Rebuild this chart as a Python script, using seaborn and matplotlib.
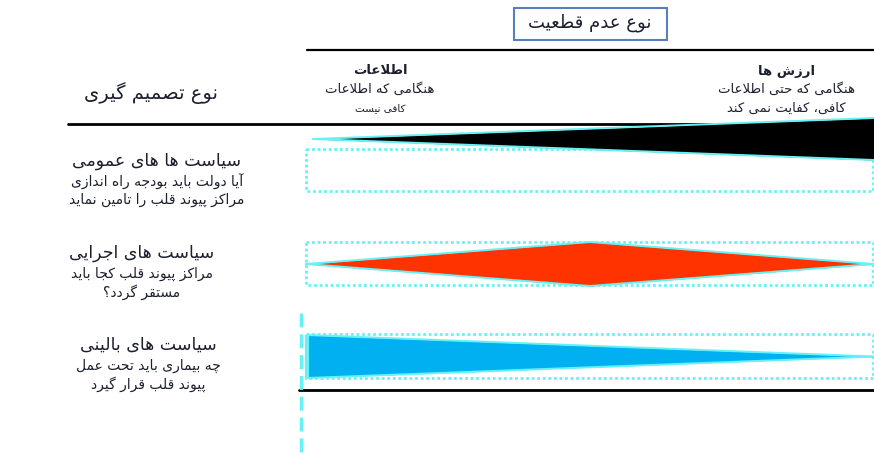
import numpy as np
import pandas as pd
import matplotlib
matplotlib.use("Agg")
import matplotlib.pyplot as plt
import seaborn as sns
from matplotlib.patches import Rectangle

# ---- chart content -------------------------------------------------------
axis_title = "نوع عدم قطعیت"
row_header = "نوع تصمیم گیری"

col_titles = ["اطلاعات", "ارزش ها"]
col_lines = [["هنگامی که اطلاعات", "کافی نیست"],
             ["هنگامی که حتی اطلاعات", "کافی، کفایت نمی کند"]]

row_titles = ["سیاست ها های عمومی", "سیاست های اجرایی", "سیاست های بالینی"]
row_lines = [["آیا دولت باید بودجه راه اندازی", "مراکز پیوند قلب را تامین نماید"],
             ["مراکز پیوند قلب کجا باید", "مستقر گردد؟"],
             ["چه بیماری باید تحت عمل", "پیوند قلب قرار گیرد"]]

# position along the uncertainty axis: 0 = information, 1 = values
positions = [0.0, 0.5, 1.0]
# relative share of each uncertainty type (half-thickness of the band)
public_policy = [0.0, 0.5, 1.0]
executive_policy = [0.0, 1.0, 0.0]
clinical_policy = [1.0, 0.5, 0.0]
band_colors = ["#000000", "#FF3300", "#00B0F0"]

# ---- minimal Persian shaping (matplotlib has no text shaping) ------------
FORMS = {
    "ا": ("\uFE8D", "\uFE8E", None, None), "آ": ("\uFE81", "\uFE82", None, None),
    "ب": ("\uFE8F", "\uFE90", "\uFE91", "\uFE92"), "پ": ("\uFB56", "\uFB57", "\uFB58", "\uFB59"),
    "ت": ("\uFE95", "\uFE96", "\uFE97", "\uFE98"), "ث": ("\uFE99", "\uFE9A", "\uFE9B", "\uFE9C"),
    "ج": ("\uFE9D", "\uFE9E", "\uFE9F", "\uFEA0"), "چ": ("\uFB7A", "\uFB7B", "\uFB7C", "\uFB7D"),
    "ح": ("\uFEA1", "\uFEA2", "\uFEA3", "\uFEA4"), "خ": ("\uFEA5", "\uFEA6", "\uFEA7", "\uFEA8"),
    "د": ("\uFEA9", "\uFEAA", None, None), "ذ": ("\uFEAB", "\uFEAC", None, None),
    "ر": ("\uFEAD", "\uFEAE", None, None), "ز": ("\uFEAF", "\uFEB0", None, None),
    "ژ": ("\uFB8A", "\uFB8B", None, None),
    "س": ("\uFEB1", "\uFEB2", "\uFEB3", "\uFEB4"), "ش": ("\uFEB5", "\uFEB6", "\uFEB7", "\uFEB8"),
    "ص": ("\uFEB9", "\uFEBA", "\uFEBB", "\uFEBC"), "ض": ("\uFEBD", "\uFEBE", "\uFEBF", "\uFEC0"),
    "ط": ("\uFEC1", "\uFEC2", "\uFEC3", "\uFEC4"), "ظ": ("\uFEC5", "\uFEC6", "\uFEC7", "\uFEC8"),
    "ع": ("\uFEC9", "\uFECA", "\uFECB", "\uFECC"), "غ": ("\uFECD", "\uFECE", "\uFECF", "\uFED0"),
    "ف": ("\uFED1", "\uFED2", "\uFED3", "\uFED4"), "ق": ("\uFED5", "\uFED6", "\uFED7", "\uFED8"),
    "ک": ("\uFB8E", "\uFB8F", "\uFB90", "\uFB91"), "گ": ("\uFB92", "\uFB93", "\uFB94", "\uFB95"),
    "ل": ("\uFEDD", "\uFEDE", "\uFEDF", "\uFEE0"), "م": ("\uFEE1", "\uFEE2", "\uFEE3", "\uFEE4"),
    "ن": ("\uFEE5", "\uFEE6", "\uFEE7", "\uFEE8"), "و": ("\uFEED", "\uFEEE", None, None),
    "ه": ("\uFEE9", "\uFEEA", "\uFEEB", "\uFEEC"), "ی": ("\uFBFC", "\uFBFD", "\uFBFE", "\uFBFF"),
}
LAM_ALEF = {"ا": ("\uFEFB", "\uFEFC"), "آ": ("\uFEF5", "\uFEF6")}


def fa(text):
    chars = list(text)
    out = []
    i = 0
    while i < len(chars):
        c = chars[i]
        prev = chars[i - 1] if i > 0 else None
        joins_prev = prev in FORMS and FORMS[prev][2] is not None
        if c == "ل" and i + 1 < len(chars) and chars[i + 1] in LAM_ALEF:
            iso, fin = LAM_ALEF[chars[i + 1]]
            out.append(fin if joins_prev else iso)
            i += 2
            continue
        if c not in FORMS:
            out.append(c)
            i += 1
            continue
        nxt = chars[i + 1] if i + 1 < len(chars) else None
        joins_next = FORMS[c][2] is not None and nxt in FORMS
        iso, fin, ini, med = FORMS[c]
        if joins_prev and joins_next:
            out.append(med)
        elif joins_prev:
            out.append(fin)
        elif joins_next:
            out.append(ini)
        else:
            out.append(iso)
        i += 1
    return "".join(reversed(out))


# ---- figure ----------------------------------------------------------------
sns.set_theme(style="white")
plt.rcParams["font.family"] = ["DejaVu Sans"]

W, H = 874, 459
fig = plt.figure(figsize=(W / 100, H / 100), dpi=100)
ax = fig.add_axes([0, 0, 1, 1])
ax.set_xlim(0, W)
ax.set_ylim(H, 0)
ax.axis("off")

txt = "#1c1f2e"
cyan = "#66F2F5"

# header box
ax.add_patch(Rectangle((514, 8), 153, 32, fill=False, edgecolor="#5A7FBF", lw=1.5))
ax.text(590, 23, fa(axis_title), ha="center", va="center", fontsize=13, color=txt)

# horizontal rules
ax.plot([307, W], [50, 50], color="black", lw=1.6)
ax.plot([68, W], [124, 124], color="black", lw=2.0)
ax.plot([299, W], [390, 390], color="black", lw=2.0)

ax.text(151, 93, fa(row_header), ha="center", va="center", fontsize=14, color=txt)

# column headers
for cx, t, lines in zip([380, 786], col_titles, col_lines):
    ax.text(cx, 71, fa(t), ha="center", va="center", fontsize=9.5, fontweight="bold", color=txt)
    ax.text(cx, 89, fa(lines[0]), ha="center", va="center", fontsize=9.5, color=txt)
    small = 7.5 if cx < 500 else 9.5
    ax.text(cx, 108, fa(lines[1]), ha="center", va="center", fontsize=small, color=txt)

# row labels
label_pos = [(157, 161), (142, 253), (148, 345)]
for (lx, ly), t, lines in zip(label_pos, row_titles, row_lines):
    ax.text(lx, ly, fa(t), ha="center", va="center", fontsize=12.5, color=txt)
    ax.text(lx, ly + 21, fa(lines[0]), ha="center", va="center", fontsize=10, color=txt)
    ax.text(lx, ly + 39, fa(lines[1]), ha="center", va="center", fontsize=10, color=txt)

# dotted frames
for y0, y1 in [(149, 191), (242, 285), (334, 378)]:
    ax.add_patch(Rectangle((306, y0), 567, y1 - y0, fill=False, edgecolor=cyan,
                           lw=2.0, linestyle=(0, (1, 1)), zorder=1))

# dashed vertical guide
ax.plot([301, 301], [313, H], color=cyan, lw=2.5, linestyle=(0, (4, 2)))

# bands (pixel rectangle of each band: x0, x1, top, bottom)
band_rects = [(313, 874, 118, 160), (306, 874, 242, 286), (307, 874, 335, 378)]
bands = [public_policy, executive_policy, clinical_policy]
for (x0, x1, t, b), vals, col in zip(band_rects, bands, band_colors):
    rax = fig.add_axes([x0 / W, 1 - b / H, (x1 - x0) / W, (b - t) / H])
    rax.set_xlim(0, 1)
    rax.set_ylim(-1, 1)
    rax.axis("off")
    rax.patch.set_alpha(0)
    v = np.array(vals)
    df = pd.DataFrame({"pos": positions, "upper": v, "lower": -v})
    rax.fill_between(df["pos"], df["lower"], df["upper"], color=col, lw=0, zorder=2)
    sns.lineplot(data=df, x="pos", y="upper", ax=rax, color=cyan, lw=1.4, zorder=3)
    sns.lineplot(data=df, x="pos", y="lower", ax=rax, color=cyan, lw=1.4, zorder=3)
    for ln in rax.lines:
        ln.set_clip_on(False)
    if v[0] > 0:
        rax.vlines(positions[0], -v[0], v[0], color=cyan, lw=3, clip_on=False, zorder=3)

fig.savefig("out.png", dpi=100)
